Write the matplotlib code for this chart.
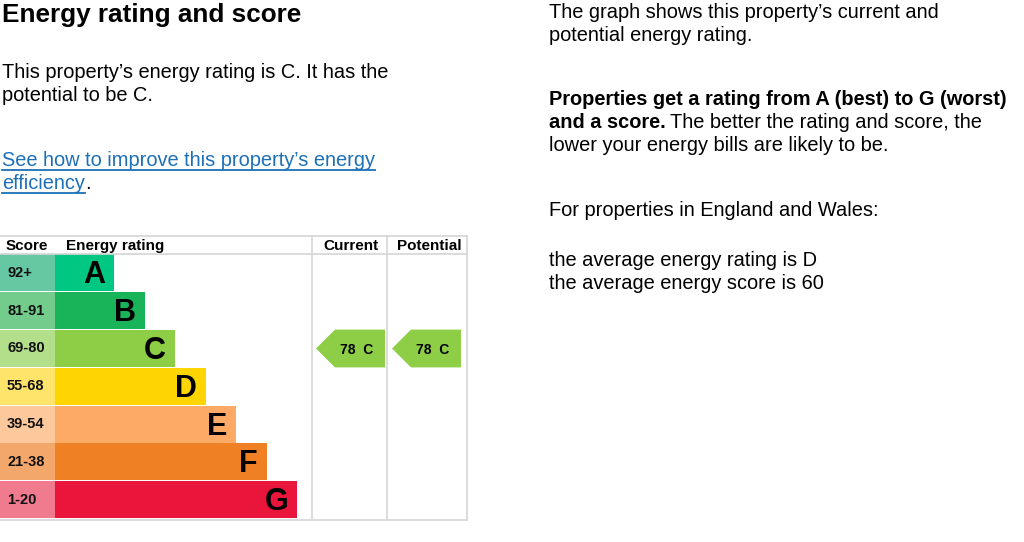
import matplotlib
matplotlib.use('Agg')
import matplotlib.pyplot as plt
from matplotlib.patches import Polygon

plt.rcParams['font.family'] = ['Liberation Sans', 'DejaVu Sans']

# data
bands = ['A', 'B', 'C', 'D', 'E', 'F', 'G']
scores = ['92+', '81-91', '69-80', '55-68', '39-54', '21-38', '1-20']
bar_colors = ['#00c781', '#19b459', '#8dce46', '#ffd500', '#fcaa65', '#ef8023', '#e9153b']
score_colors = ['#66c8a2', '#73cc8b', '#b4df8a', '#ffe46b', '#fdc89c', '#f4a76a', '#f07a8e']
current_score = 78
current_band = 'C'
potential_score = 78
potential_band = 'C'

W, H = 1024, 542
fig = plt.figure(figsize=(W / 100, H / 100), dpi=100)
ax = fig.add_axes([0, 0, 1, 1])
ax.set_xlim(0, W)
ax.set_ylim(H, 0)
ax.axis('off')

# ---- table layout (pixels)
top, head_h, row_h = 236, 18, 37.8
score_w, bar_x0, bar_step, bar_w0 = 55, 55, 30.5, 59
col_cur, col_pot, col_end = 312, 387, 467
bottom = top + head_h + row_h * len(bands) + 1
grid = '#d6d6d6'

ys = [top + head_h + row_h * i + row_h / 2 for i in range(len(bands))]
widths = [bar_w0 + bar_step * i for i in range(len(bands))]

ax.barh(ys, [score_w] * len(bands), left=0, height=row_h - 0.8, color=score_colors)
ax.barh(ys, widths, left=bar_x0, height=row_h - 0.8, color=bar_colors)

for y, w, b, s in zip(ys, widths, bands, scores):
    ax.text(bar_x0 + w - 9, y + 2.5, b, ha='right', va='center', fontsize=22, fontweight='bold')
    ax.text(7, y, s, ha='left', va='center', fontsize=10.5, fontweight='bold', color='#111111')

# grid lines
ax.plot([0, col_end], [top, top], color=grid, lw=1.2)
ax.plot([0, col_end], [top + head_h, top + head_h], color=grid, lw=1.2)
ax.plot([0, col_end], [bottom, bottom], color=grid, lw=1.2)
for x in [col_cur, col_pot, col_end]:
    ax.plot([x, x], [top, bottom], color=grid, lw=1.2)

hy = top + head_h / 2 + 1
hfs = 11
ax.text(6, hy, 'Score', ha='left', va='center', fontsize=hfs, fontweight='bold')
ax.text(66, hy, 'Energy rating', ha='left', va='center', fontsize=hfs, fontweight='bold')
ax.text((col_cur + col_pot) / 2 + 1, hy, 'Current', ha='center', va='center', fontsize=hfs, fontweight='bold')
ax.text((col_pot + col_end) / 2 + 2, hy, 'Potential', ha='center', va='center', fontsize=hfs, fontweight='bold')


def arrow(x0, x1, band, score):
    i = bands.index(band)
    yc = ys[i]
    h = row_h / 2
    pts = [(x0, yc), (x0 + 19, yc - h), (x1, yc - h), (x1, yc + h), (x0 + 19, yc + h)]
    ax.add_patch(Polygon(pts, closed=True, color=bar_colors[i], lw=0))
    ax.text((x0 + x1) / 2 + 6, yc + 1, f'{score}  {band}', ha='center', va='center',
            fontsize=10, fontweight='bold')


arrow(col_cur + 4, col_pot - 2, current_band, current_score)
arrow(col_pot + 5, col_end - 6, potential_band, potential_score)

# ---- text (y values are baselines)
ax.text(2, 22, 'Energy rating and score', ha='left', va='baseline', fontsize=18.8, fontweight='bold')
body = 14.4


def line(x, y, s, **kw):
    return ax.text(x, y, s, va='baseline', fontsize=body, **kw)


line(2, 78, 'This property\u2019s energy rating is C. It has the')
line(2, 101, 'potential to be C.')

link = '#1d70b8'
fig.canvas.draw()
r = fig.canvas.get_renderer()
inv = ax.transData.inverted()


def text_w(t):
    bb = t.get_window_extent(renderer=r)
    (xa, _), (xb, _) = inv.transform([(bb.x0, 0), (bb.x1, 0)])
    return xa, xb


t1 = line(2, 166, 'See how to improve this property\u2019s energy', color=link)
t2 = line(2, 189, 'efficiency', color=link)
for t, y in [(t1, 170), (t2, 193)]:
    xa, xb = text_w(t)
    ax.plot([xa, xb], [y, y], color=link, lw=1.3)
xa, xb = text_w(t2)
line(xb, 189, '.')

rx = 549
line(rx, 18, 'The graph shows this property\u2019s current and')
line(rx, 41, 'potential energy rating.')
line(rx, 105, 'Properties get a rating from A (best) to G (worst)', fontweight='bold')
tb = line(rx, 128, 'and a score.', fontweight='bold')
xa, xb = text_w(tb)
line(xb + 4, 128, 'The better the rating and score, the')
line(rx, 151, 'lower your energy bills are likely to be.')
line(rx, 216, 'For properties in England and Wales:')
line(rx, 266, 'the average energy rating is D')
line(rx, 289, 'the average energy score is 60')

fig.savefig('out.png', dpi=100)
